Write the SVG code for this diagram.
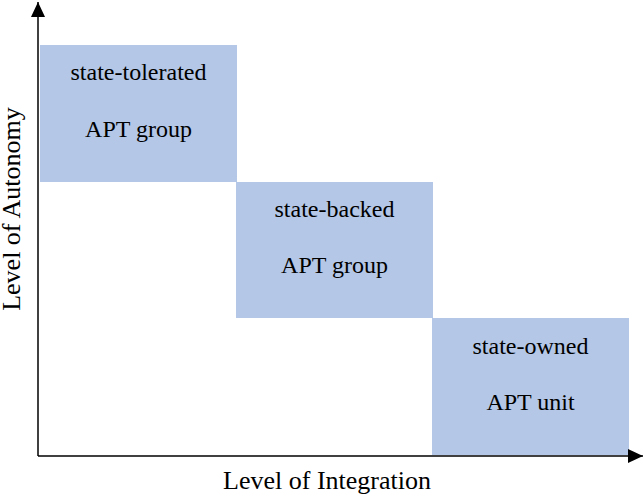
<svg xmlns="http://www.w3.org/2000/svg" width="644" height="495" viewBox="0 0 644 495">
  <style>
    .box { fill: #b4c7e7; }
    .lbl { font-family: 'Liberation Serif', 'DejaVu Serif', 'Times New Roman', serif; font-size: 24px; fill: #000; text-anchor: middle; }
    .ax { font-size: 26px; }
    .axis { stroke: #000; stroke-width: 1.5; fill: none; }
  </style>
  <defs>
    <marker id="arrow" viewBox="0 0 15 14" refX="15" refY="7" markerWidth="15" markerHeight="14" markerUnits="userSpaceOnUse" orient="auto">
      <path d="M0,0 L15,7 L0,14 Z" fill="#000"/>
    </marker>
  </defs>
  <rect width="644" height="495" fill="#fff"/>

  <g id="node-tolerated">
    <rect class="box" x="40" y="45" width="197" height="137"/>
    <text class="lbl" x="138.5" y="80">state-tolerated</text>
    <text class="lbl" x="138.5" y="137">APT group</text>
  </g>
  <g id="node-backed">
    <rect class="box" x="236" y="182" width="197" height="136"/>
    <text class="lbl" x="334.5" y="217">state-backed</text>
    <text class="lbl" x="334.5" y="273">APT group</text>
  </g>
  <g id="node-owned">
    <rect class="box" x="432" y="318" width="197" height="137"/>
    <text class="lbl" x="530.5" y="354">state-owned</text>
    <text class="lbl" x="530.5" y="410">APT unit</text>
  </g>

  <g id="connectors">
    <path d="M38,456 L38,2" class="axis" marker-end="url(#arrow)"/>
    <path d="M38,456 L643,456" class="axis" marker-end="url(#arrow)"/>
  </g>

  <g id="axis-labels">
    <text class="lbl ax" x="327" y="489">Level of Integration</text>
    <text class="lbl ax" transform="translate(20,209) rotate(-90)">Level of Autonomy</text>
  </g>
</svg>
